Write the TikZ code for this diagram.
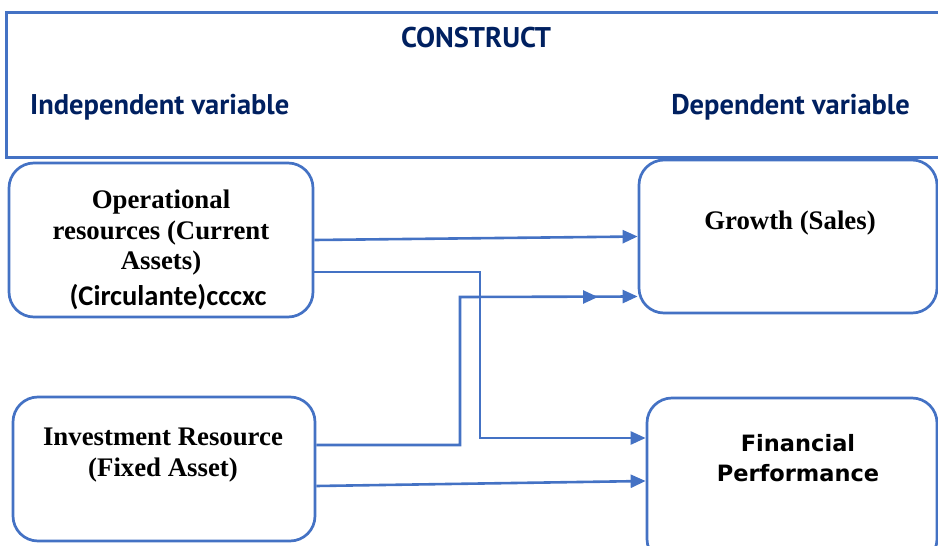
\documentclass[tikz,border=0pt]{standalone}
\usepackage{fontspec}
\setmainfont{Liberation Serif}
\newfontfamily\hdfont{PT Sans}
\newfontfamily\tfont{DejaVu Sans}
\newfontfamily\cfont{Carlito}
\usetikzlibrary{arrows.meta}
\definecolor{lblue}{HTML}{4472C4}
\definecolor{navy}{HTML}{002060}
\begin{document}
\begin{tikzpicture}[x=1pt,y=-1pt,
  box/.style={draw=lblue,line width=2.7pt,rounded corners=25pt,inner sep=0pt,rectangle},
  arr/.style={draw=lblue,line width=2.6pt,-{Triangle[length=15pt,width=13pt]}},
  hd/.style={font=\hdfont\bfseries\fontsize{28.5}{32}\selectfont,text=navy,inner sep=0pt},
  ser/.style={font=\bfseries\fontsize{26.8}{30.5}\selectfont,align=center,inner sep=0pt},
  sans/.style={font=\tfont\bfseries\fontsize{22.5}{30}\selectfont,align=center,inner sep=0pt},
]
\useasboundingbox (0,0) rectangle (938,546);
\clip (0,0) rectangle (938,546);
% header frame
\node[draw=lblue,line width=2.8pt,rectangle,inner sep=0pt,anchor=north west,
      minimum width=960pt,minimum height=145pt] (frame) at (5,11) {};
\node[hd] (construct) at (476,38) {CONSTRUCT};
\node[hd,anchor=west] (indep) at (30,107) {Independent variable};
\node[hd,anchor=east] (dep) at (910,107) {Dependent variable};
% boxes
\node[box,minimum width=304pt,minimum height=154pt] (op) at (161,240) {};
\node[ser] (optxt) at (161,233) {Operational\\resources (Current\\Assets)};
\node[font=\cfont\bfseries\fontsize{28.5}{30}\selectfont,inner sep=0pt] (circ) at (168,297) {(Circulante)cccxc};
\node[box,minimum width=298pt,minimum height=153pt] (grow) at (788,236.5) {};
\node[ser] (growtxt) at (790,223) {Growth (Sales)};
\node[box,minimum width=302pt,minimum height=144pt] (inv) at (164,469) {};
\node[ser] (invtxt) at (163,455) {Investment Resource\\(Fixed Asset)};
\node[box,minimum width=290pt,minimum height=166pt] (fin) at (792,481) {};
\node[sans] (fintxt) at (798,458) {Financial\\Performance};
% connectors
\coordinate (b2) at (480,438);
\coordinate (b3) at (460,297);
\coordinate (mid) at (598,297);
\draw[arr] (op.east) -- (grow.west);
\draw[arr] ([yshift=-32pt]op.east) -| (b2) -- ([yshift=43pt]fin.west);
\draw[arr] ([yshift=24pt]inv.east) -| (b3) -- ([yshift=-60pt]grow.west);
\draw[arr] (b3) -- (mid);
\draw[arr] ([yshift=-17pt]inv.east) -- (fin.west);
\end{tikzpicture}
\end{document}
